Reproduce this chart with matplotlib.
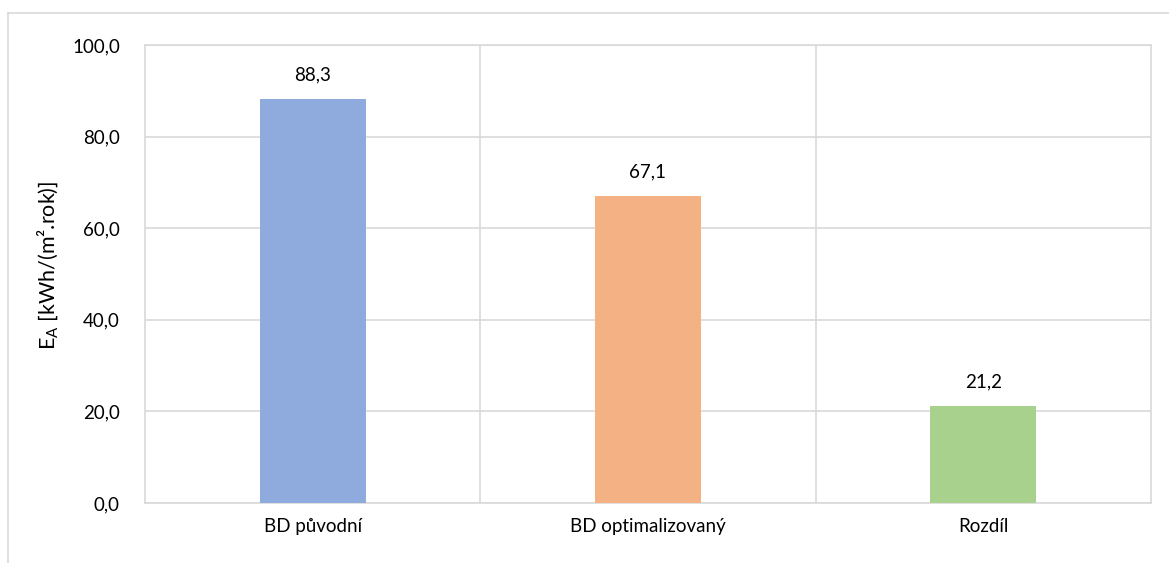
import matplotlib
matplotlib.use("Agg")
import matplotlib.pyplot as plt
from matplotlib.lines import Line2D

plt.rcParams['font.family'] = ['Lato', 'DejaVu Sans']
plt.rcParams['mathtext.fontset'] = 'custom'
plt.rcParams['mathtext.rm'] = 'Lato'
plt.rcParams['mathtext.it'] = 'Lato'

categories = ["BD původní", "BD optimalizovaný", "Rozdíl"]
values = [88.3, 67.1, 21.2]
colors = ["#8FAADC", "#F4B183", "#A9D18E"]
yticks = [0, 20, 40, 60, 80, 100]

grid_c = "#D9D9D9"
fs = 13.5

fig = plt.figure(figsize=(11.69, 5.63), dpi=100)
ax = fig.add_axes([0.124, 0.1066, 0.8606, 0.8134])

x = list(range(len(categories)))
bars = ax.bar(x, values, width=0.316, color=colors, zorder=3)

for b, v in zip(bars, values):
    ax.annotate(f"{v:.1f}".replace(".", ","), (b.get_x() + b.get_width() / 2, v),
                xytext=(0, 11), textcoords="offset points",
                ha="center", va="bottom", fontsize=fs, color="#000000")

ax.set_xlim(-0.5, len(categories) - 0.5)
ax.set_ylim(0, 100)
ax.set_yticks(yticks)
ax.set_yticklabels([f"{t:.1f}".replace(".", ",") for t in yticks], fontsize=fs)
ax.set_xticks(x)
ax.set_xticklabels(categories, fontsize=fs)
ax.tick_params(length=0)
ax.tick_params(axis="y", pad=18)
ax.tick_params(axis="x", pad=11)

ax.grid(axis="y", color=grid_c, linewidth=1.2, zorder=0)
for sep in [i + 0.5 for i in range(len(categories) - 1)]:
    ax.axvline(sep, color=grid_c, linewidth=1.2, zorder=0)
for s in ax.spines.values():
    s.set_color(grid_c)
    s.set_linewidth(1.2)

ax.set_ylabel(r"E$_\mathrm{A}$ [kWh/(m².rok)]", fontsize=15.5)
ax.yaxis.set_label_coords(-0.084, 0.52)

# chart frame: only left and top edges fall inside the image
fig.add_artist(Line2D([8 / 1169, 8 / 1169], [0, 1 - 13 / 563], color=grid_c, linewidth=1.2))
fig.add_artist(Line2D([8 / 1169, 1], [1 - 13 / 563, 1 - 13 / 563], color=grid_c, linewidth=1.2))

fig.savefig("out.png", dpi=100)
